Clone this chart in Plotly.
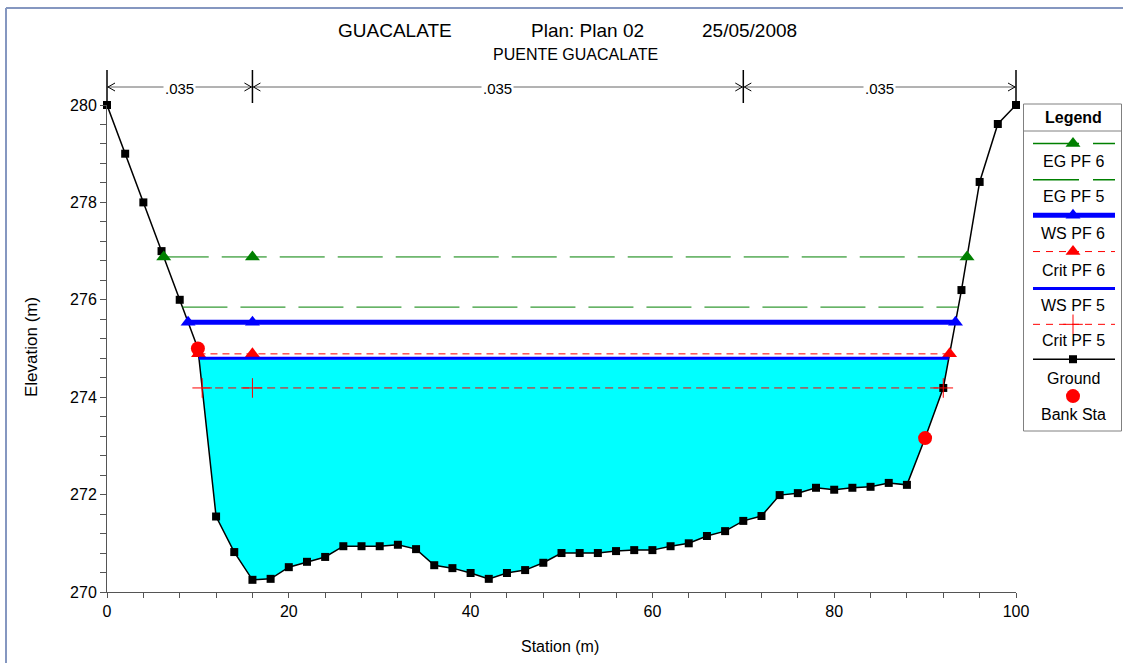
import numpy as np
import plotly.graph_objects as go

# ---------------- data ----------------
station = [0, 2, 4, 6, 8, 10, 12, 14, 16, 18, 20, 22, 24, 26, 28, 30, 32, 34, 36, 38,
           40, 42, 44, 46, 48, 50, 52, 54, 56, 58, 60, 62, 64, 66, 68, 70, 72, 74, 76,
           78, 80, 82, 84, 86, 88, 90, 92, 94, 96, 98, 100]
elevation = [280.0, 279.0, 278.0, 277.0, 276.0, 275.0, 271.55, 270.82, 270.25, 270.27,
             270.51, 270.62, 270.72, 270.94, 270.94, 270.94, 270.97, 270.88, 270.55, 270.49,
             270.39, 270.27, 270.39, 270.45, 270.60, 270.80, 270.80, 270.80, 270.84, 270.86,
             270.86, 270.94, 271.00, 271.15, 271.25, 271.46, 271.56, 271.99, 272.03, 272.14,
             272.10, 272.14, 272.16, 272.24, 272.20, 273.16, 274.19, 276.20, 278.42, 279.61, 280.0]
bank_sta = [10, 90]
n_bounds = [0, 16, 70, 100]
n_values = [".035", ".035", ".035"]
marker_sta = 16

eg_pf6 = 276.88
eg_pf5 = 275.85
ws_pf6 = 275.54
crit_pf6 = 274.89
ws_pf5 = 274.80
crit_pf5 = 274.19

legend_names = ["EG PF 6", "EG PF 5", "WS PF 6", "Crit PF 6", "WS PF 5", "Crit PF 5", "Ground", "Bank Sta"]

title_parts = ["GUACALATE", "Plan: Plan 02", "25/05/2008"]
subtitle = "PUENTE GUACALATE"

# ---------------- geometry helpers ----------------
W, H = 1123, 663
L, R, T, B = 107, 1, 105, 71
PW = W - L - R
PH = H - T - B
X0PIX, X1PIX = 107, 1016


def pxx(p):
    return (p - L) / PW


def pxy(p):
    return (H - B - p) / PH


DX = 1.0 / (X1PIX - X0PIX)  # one pixel in x-domain units
DY = 1.0 / PH               # one pixel in paper-y units

s_arr = np.array(station, float)
e_arr = np.array(elevation, float)


def crossings(level):
    xl = xr = None
    for i in range(len(s_arr) - 1):
        if e_arr[i] >= level > e_arr[i + 1]:
            f = (e_arr[i] - level) / (e_arr[i] - e_arr[i + 1])
            xl = s_arr[i] + f * (s_arr[i + 1] - s_arr[i])
            break
    for i in range(len(s_arr) - 2, -1, -1):
        if e_arr[i] <= level < e_arr[i + 1]:
            f = (level - e_arr[i]) / (e_arr[i + 1] - e_arr[i])
            xr = s_arr[i] + f * (s_arr[i + 1] - s_arr[i])
            break
    return xl, xr


FONT = "Arial, Liberation Sans, sans-serif"
GREEN = "#008000"
BLUE = "#0000ff"
RED = "#ff0000"

fig = go.Figure()

# cyan water fill (WS PF 5)
xl, xr = crossings(ws_pf5)
inner = (s_arr > xl) & (s_arr < xr)
poly_x = [xl] + list(s_arr[inner]) + [xr]
poly_y = [ws_pf5] + list(e_arr[inner]) + [ws_pf5]
fig.add_trace(go.Scatter(x=poly_x, y=poly_y, mode="lines", fill="toself",
                         fillcolor="#00ffff", line=dict(width=0), hoverinfo="skip"))

# ground
fig.add_trace(go.Scatter(x=station, y=elevation, mode="lines+markers",
                         line=dict(color="black", width=1.5),
                         marker=dict(symbol="square", size=8, color="black"),
                         cliponaxis=False))


def level_trace(level, color, width, dash, marker=None):
    a, b = crossings(level)
    if marker is None:
        fig.add_trace(go.Scatter(x=[a, b], y=[level, level], mode="lines",
                                 line=dict(color=color, width=width, dash=dash)))
    else:
        fig.add_trace(go.Scatter(x=[a, marker_sta, b], y=[level] * 3, mode="lines+markers",
                                 line=dict(color=color, width=width, dash=dash),
                                 marker=marker, cliponaxis=False))


tri = lambda c: dict(symbol="triangle-up", size=13, color=c)
cross = dict(symbol="cross-thin", size=14, color=RED, line=dict(color=RED, width=1))

level_trace(eg_pf6, GREEN, 1, "45px,13px", tri(GREEN))
level_trace(eg_pf5, GREEN, 1, "45px,13px")
level_trace(ws_pf6, BLUE, 5, "solid", tri(BLUE))
level_trace(crit_pf6, RED, 1, "7px,5px", tri(RED))
level_trace(ws_pf5, BLUE, 3, "solid")
level_trace(crit_pf5, RED, 1, "8px,5px", cross)

# bank stations
fig.add_trace(go.Scatter(x=bank_sta, y=list(np.interp(bank_sta, s_arr, e_arr)), mode="markers",
                         marker=dict(symbol="circle", size=14, color=RED), cliponaxis=False))

# ---------------- custom legend (pixel-coordinate axes) ----------------
LEG_X0, LEG_X1, LEG_Y0, LEG_Y1 = 1023, 1122, 104, 431
samp_y = [142.7, 179, 214.5, 251, 288, 324, 359, 396]
text_y = [161, 196, 232.5, 270, 305, 340, 378, 414]
sx0, sx1, sxm = 1033, 1115, 1073
leg_styles = [
    (dict(color=GREEN, width=1.5, dash="46px,14px"), tri(GREEN)),
    (dict(color=GREEN, width=1.5, dash="46px,14px"), None),
    (dict(color=BLUE, width=5), tri(BLUE)),
    (dict(color=RED, width=1, dash="7px,6px"), tri(RED)),
    (dict(color=BLUE, width=3), None),
    (dict(color=RED, width=1, dash="7px,6px"), cross),
    (dict(color="black", width=1.5), dict(symbol="square", size=8, color="black")),
    (None, dict(symbol="circle", size=14, color=RED)),
]
for yy, (ln, mk) in zip(samp_y, leg_styles):
    if ln is not None:
        fig.add_trace(go.Scatter(x=[sx0, sx1], y=[yy, yy], mode="lines", line=ln,
                                 xaxis="x2", yaxis="y2", cliponaxis=False))
    if mk is not None:
        fig.add_trace(go.Scatter(x=[sxm], y=[yy], mode="markers", marker=mk,
                                 xaxis="x2", yaxis="y2", cliponaxis=False))

annotations = []
for yy, name in zip(text_y, legend_names):
    annotations.append(dict(x=sxm, y=yy, xref="x2", yref="y2", text=name, showarrow=False,
                            font=dict(family=FONT, size=16, color="black"),
                            xanchor="center", yanchor="middle"))
annotations.append(dict(x=sxm, y=117, xref="x2", yref="y2", text="<b>Legend</b>", showarrow=False,
                        font=dict(family=FONT, size=16, color="black"),
                        xanchor="center", yanchor="middle"))

shapes = []
# legend box + separator
shapes.append(dict(type="rect", xref="paper", yref="paper",
                   x0=pxx(LEG_X0 + 0.5), x1=pxx(LEG_X1 - 0.5), y0=pxy(LEG_Y1), y1=pxy(LEG_Y0),
                   line=dict(color="#808080", width=1)))
shapes.append(dict(type="line", xref="paper", yref="paper",
                   x0=pxx(LEG_X0 + 0.5), x1=pxx(LEG_X1 - 0.5), y0=pxy(131), y1=pxy(131),
                   line=dict(color="#808080", width=1)))

# outer frame (left and top)
shapes.append(dict(type="line", xref="paper", yref="paper", x0=pxx(6), x1=pxx(6),
                   y0=pxy(8), y1=pxy(H + 5), line=dict(color="#8597c0", width=2)))
shapes.append(dict(type="line", xref="paper", yref="paper", x0=pxx(6), x1=pxx(W + 5),
                   y0=pxy(8), y1=pxy(8), line=dict(color="#8597c0", width=2)))

# n-value indicator above the plot
NY = pxy(87)
shapes.append(dict(type="line", xref="x domain", yref="paper", x0=0, x1=1, y0=NY, y1=NY,
                   line=dict(color="#666666", width=1)))
for s in n_bounds:
    xd = s / 100.0
    shapes.append(dict(type="line", xref="x domain", yref="paper", x0=xd, x1=xd,
                       y0=pxy(103), y1=pxy(70), line=dict(color="black", width=1.5)))
    if s > n_bounds[0]:
        p = f"M {xd - 8*DX},{NY + 4*DY} L {xd - 1*DX},{NY} L {xd - 8*DX},{NY - 4*DY}"
        shapes.append(dict(type="path", xref="x domain", yref="paper", path=p,
                           line=dict(color="black", width=1)))
    if s < n_bounds[-1]:
        p = f"M {xd + 8*DX},{NY + 4*DY} L {xd + 1*DX},{NY} L {xd + 8*DX},{NY - 4*DY}"
        shapes.append(dict(type="path", xref="x domain", yref="paper", path=p,
                           line=dict(color="black", width=1)))
for a, b, txt in zip(n_bounds[:-1], n_bounds[1:], n_values):
    annotations.append(dict(x=(a + b) / 200.0, y=pxy(89), xref="x domain", yref="paper",
                            text=txt, showarrow=False, bgcolor="white", borderpad=1,
                            font=dict(family=FONT, size=15, color="black"),
                            xanchor="center", yanchor="middle"))

# titles
for txt, cx in zip(title_parts, [395, 587, 749]):
    annotations.append(dict(x=pxx(cx), y=pxy(30), xref="paper", yref="paper", text=txt,
                            showarrow=False, font=dict(family=FONT, size=19, color="black"),
                            xanchor="center", yanchor="middle"))
annotations.append(dict(x=pxx(575), y=pxy(55), xref="paper", yref="paper", text=subtitle,
                        showarrow=False, font=dict(family=FONT, size=16, color="black"),
                        xanchor="center", yanchor="middle"))
# axis titles
annotations.append(dict(x=pxx(31), y=pxy(347), xref="paper", yref="paper", text="Elevation (m)",
                        textangle=-90, showarrow=False,
                        font=dict(family=FONT, size=17, color="black"),
                        xanchor="center", yanchor="middle"))
annotations.append(dict(x=pxx(560), y=pxy(646), xref="paper", yref="paper", text="Station (m)",
                        showarrow=False, font=dict(family=FONT, size=16, color="black"),
                        xanchor="center", yanchor="middle"))

AX = "#555555"
fig.update_layout(
    width=W, height=H,
    margin=dict(l=L, r=R, t=T, b=B, autoexpand=False),
    paper_bgcolor="white", plot_bgcolor="white",
    showlegend=False,
    font=dict(family=FONT, size=16, color="black"),
    xaxis=dict(range=[0, 100], domain=[0, pxx(X1PIX)], anchor="y",
               showline=True, linecolor=AX, linewidth=1, showgrid=False, zeroline=False,
               ticks="outside", ticklen=5, tickcolor=AX, tick0=0, dtick=20,
               minor=dict(dtick=4, ticks="outside", ticklen=5, tickcolor=AX, showgrid=False),
               tickfont=dict(family=FONT, size=16, color="black")),
    yaxis=dict(range=[270, 280], domain=[0, 1], anchor="x",
               showline=True, linecolor=AX, linewidth=1, showgrid=False, zeroline=False,
               ticks="outside", ticklen=6, tickcolor=AX, tick0=270, dtick=2,
               minor=dict(dtick=0.4, ticks="outside", ticklen=6, tickcolor=AX, showgrid=False),
               tickfont=dict(family=FONT, size=16, color="black")),
    xaxis2=dict(range=[LEG_X0, LEG_X1], domain=[pxx(LEG_X0), 1.0], anchor="y2",
                visible=False, fixedrange=True),
    yaxis2=dict(range=[LEG_Y1, LEG_Y0], domain=[pxy(LEG_Y1), 1.0], anchor="x2",
                visible=False, fixedrange=True),
    shapes=shapes,
    annotations=annotations,
)

fig.write_html("out.html")
